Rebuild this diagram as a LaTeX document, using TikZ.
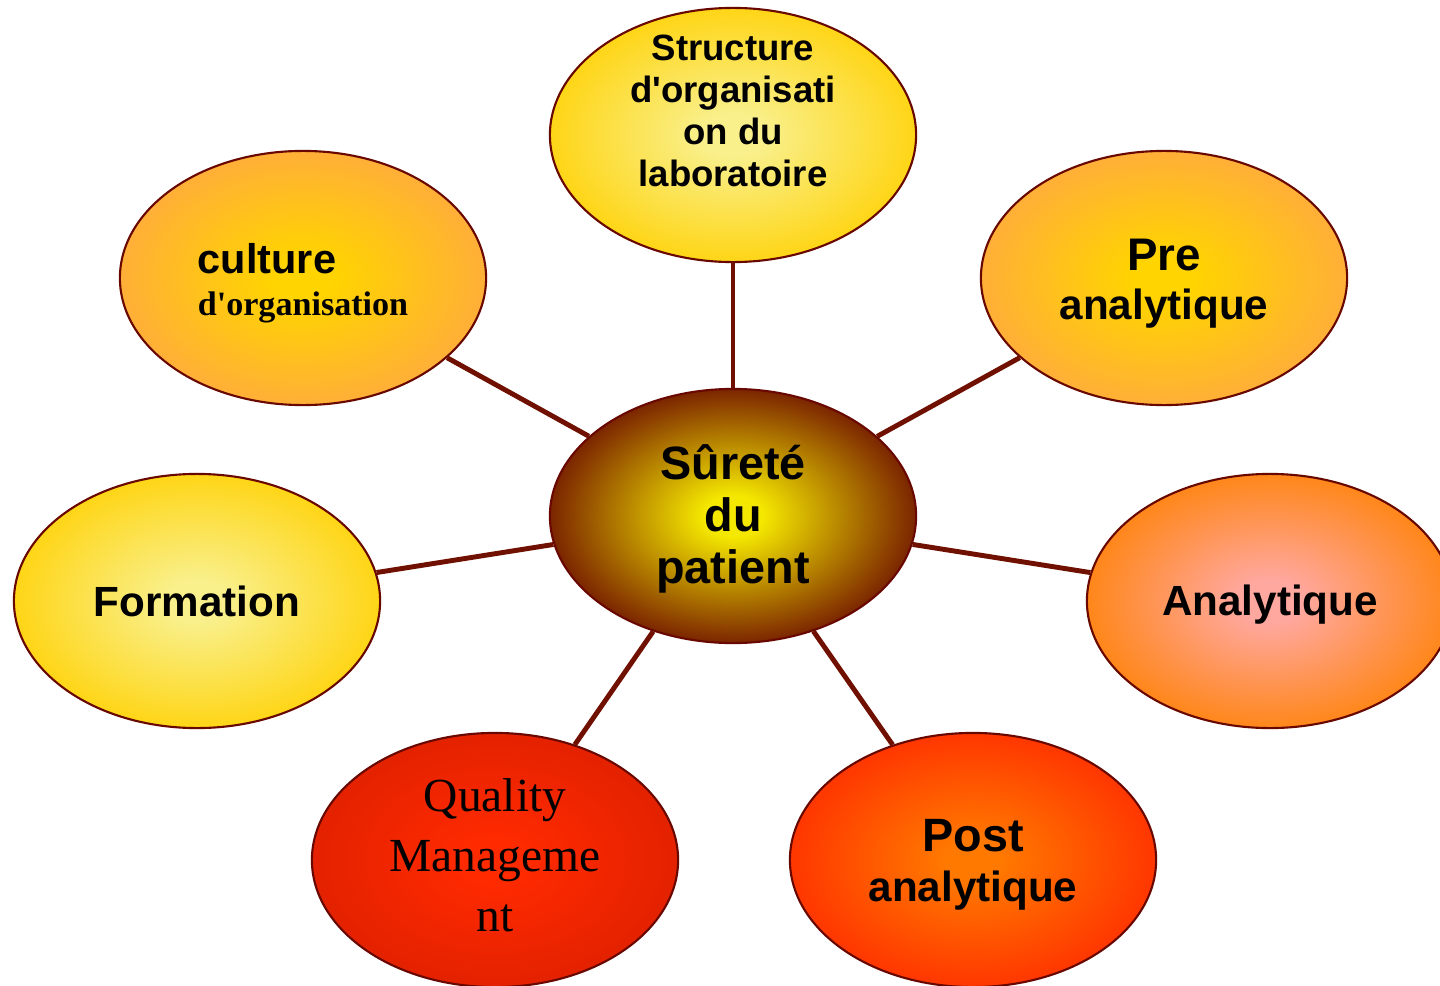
\documentclass[tikz,border=0pt]{standalone}
\usepackage{fontspec}
\setmainfont{Liberation Serif}
\setsansfont{Liberation Sans}
\usetikzlibrary{shapes.geometric}

\definecolor{rimred}{RGB}{104,8,0}
\definecolor{linkred}{RGB}{112,16,0}
\definecolor{paleyellow}{RGB}{249,240,140}
\definecolor{gold}{RGB}{255,208,0}
\definecolor{sunyellow}{RGB}{255,212,0}
\definecolor{lightorange}{RGB}{255,168,66}
\definecolor{pink}{RGB}{255,168,160}
\definecolor{deeporange}{RGB}{255,128,0}
\definecolor{flameorange}{RGB}{255,120,0}
\definecolor{flamered}{RGB}{255,42,0}
\definecolor{brick}{RGB}{222,32,0}
\definecolor{hubyellow}{RGB}{245,232,0}
\definecolor{hubbrown}{RGB}{100,0,0}

\colorlet{ovin}{white}
\colorlet{ovout}{white}
\pgfdeclareradialshading[ovin,ovout]{ovalglow}{\pgfpoint{0bp}{0bp}}{color(0bp)=(ovin); color(4bp)=(ovin); color(29bp)=(ovout); color(50bp)=(ovout)}

\tikzset{
    oval/.style 2 args={ellipse, draw=rimred, line width=0.6pt, minimum width=3.66cm, minimum height=2.54cm, inner sep=0pt, /utils/exec={\colorlet{ovin}{#1}\colorlet{ovout}{#2}}, shade, shading=ovalglow},
    link/.style={draw=linkred, line width=1.4pt},
    bold/.style 2 args={font={\fontsize{#1}{#2}\selectfont\sffamily\bfseries}, align=center}
}

\begin{document}
\begin{tikzpicture}[x=0.01cm, y=-0.01cm]
    \useasboundingbox (0,0) rectangle (1440,985);
    % ellipses
    \node[oval={hubyellow}{hubbrown}] at (733,516) (hub) {};
    \node[oval={paleyellow}{gold}] at (733,135) (struct) {};
    \node[oval={sunyellow}{lightorange}] at (303,278) (culture) {};
    \node[oval={sunyellow}{lightorange}] at (1164,278) (pre) {};
    \node[oval={paleyellow}{gold}] at (197,601) (formation) {};
    \node[oval={pink}{deeporange}] at (1270,601) (analyt) {};
    \node[oval={flamered}{brick}] at (495,860) (quality) {};
    \node[oval={flameorange}{flamered}] at (973,860) (post) {};
    % texts
    \node[bold={13.3}{14.7}] at (733,519) (hubtext) {Sûreté\\du\\patient};
    \node[bold={10.4}{11.9}] at (733,111) (structtext) {Structure\\d\textquotesingle organisati\\on du\\laboratoire};
    \node[align=left] at (303,283) (culturetext) {{\fontsize{11.8}{13}\selectfont\sffamily\bfseries culture}\\{\fontsize{9.7}{13}\selectfont\rmfamily\bfseries d\textquotesingle organisation}};
    \node[bold={12}{14}] at (1164,284) (pretext) {{\fontsize{13}{14}\selectfont Pre}\\analytique};
    \node[bold={12}{13}] at (197,601) (formationtext) {Formation};
    \node[bold={12}{13}] at (1270,605) (analyttext) {Analytique};
    \node[font={\fontsize{13.5}{17}\selectfont\rmfamily}, align=center] at (495,855) (qualitytext) {Quality\\Manageme\\nt};
    \node[bold={12}{14.2}] at (973,865) (posttext) {{\fontsize{13.3}{14.2}\selectfont Post}\\analytique};
    % links
    \draw[link] (hub) -- (struct);
    \draw[link] (hub) -- (culture);
    \draw[link] (hub) -- (pre);
    \draw[link] (hub) -- (formation);
    \draw[link] (hub) -- (analyt);
    \draw[link] (hub) -- (quality);
    \draw[link] (hub) -- (post);
\end{tikzpicture}
\end{document}
